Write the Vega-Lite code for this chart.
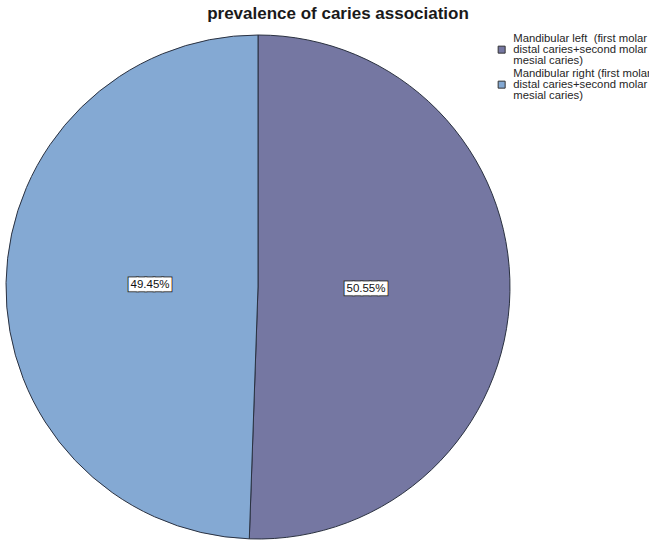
{
  "$schema": "https://vega.github.io/schema/vega-lite/v6.json",
  "width": 516,
  "height": 522,
  "autosize": "none",
  "padding": {"left": 0, "top": 26, "right": 133, "bottom": 0},
  "background": "white",
  "title": {
    "text": "prevalence of caries association",
    "font": "Liberation Sans",
    "fontSize": 17,
    "fontWeight": "bold",
    "color": "#1a1a1a",
    "anchor": "middle",
    "dx": 80,
    "offset": 3
  },
  "data": {
    "values": [
      {"category": "Mandibular left\u00a0 (first molar distal caries+second molar mesial caries)", "share": 0.5055},
      {"category": "Mandibular right (first molar distal caries+second molar mesial caries)", "share": 0.4945}
    ]
  },
  "encoding": {
    "theta": {"field": "share", "type": "quantitative", "stack": true},
    "order": {"field": "category", "sort": "ascending"}
  },
  "layer": [
    {
      "mark": {"type": "arc", "outerRadius": 252, "stroke": "#2a3140", "strokeWidth": 1},
      "encoding": {
        "color": {
          "field": "category",
          "type": "nominal",
          "scale": {"range": ["#7577a2", "#84a9d3"]},
          "legend": {
            "title": null,
            "orient": "none",
            "legendX": 496,
            "legendY": 18,
            "symbolType": "square",
            "symbolSize": 49,
            "symbolStrokeColor": "#333333",
            "symbolStrokeWidth": 1,
            "labelFont": "Liberation Sans",
            "labelFontSize": 11.3,
            "labelColor": "#262626",
            "labelLimit": 400,
            "labelOffset": 6,
            "rowPadding": 1,
            "labelExpr": "[slice(datum.label, 0, indexof(datum.label, ' distal')), 'distal caries+second molar', 'mesial caries)']",
            "encode": {"labels": {"update": {"lineHeight": {"value": 11}, "dy": {"value": -11}}}}
          }
        }
      }
    },
    {
      "mark": {"type": "text", "radius": 108, "font": "DejaVu Sans", "fontSize": 10.8, "fill": "#333333", "stroke": "#333333", "strokeWidth": 3},
      "encoding": {
        "detail": {"field": "category"},
        "text": {"value": "█████"}
      }
    },
    {
      "mark": {"type": "text", "radius": 108, "font": "DejaVu Sans", "fontSize": 10.8, "fill": "white", "stroke": "white", "strokeWidth": 1},
      "encoding": {
        "detail": {"field": "category"},
        "text": {"value": "█████"}
      }
    },
    {
      "mark": {"type": "text", "radius": 108, "font": "Liberation Sans", "fontSize": 11.5, "fill": "#111111"},
      "encoding": {
        "detail": {"field": "category"},
        "text": {"field": "share", "type": "quantitative", "format": ".2%"}
      }
    }
  ],
  "config": {"view": {"stroke": null}}
}
